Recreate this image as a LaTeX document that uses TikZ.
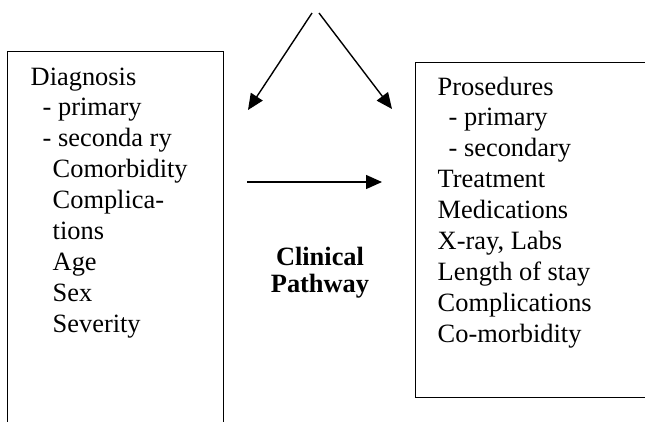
\documentclass[tikz,border=0pt]{standalone}
\usepackage{fontspec}
\setmainfont{Liberation Serif}
\usetikzlibrary{arrows.meta}
\usetikzlibrary{positioning}
\tikzset{
	framebox/.style={
		rectangle,
		draw=black,
		line width=1.4pt,
		inner sep=0pt,
		anchor=north west,
	},
	listtext/.style={
		inner sep=0pt,
		anchor=base west,
		font=\fontsize{26.4}{30.9}\selectfont,
	},
}

\begin{document}
\begin{tikzpicture}[x=1pt,y=-1pt,->,>={Triangle[length=16pt,width=14pt]},line width=1.4pt]
	
	\useasboundingbox (0,0) rectangle (645,421);
	
	\node[framebox, minimum width=216pt, minimum height=400pt] (LEFT) at (7,51) {};
	
	\node[framebox, minimum width=260pt, minimum height=335pt] (RIGHT) at (415,62) {};
	
	\node[listtext,
	below right=34pt and 23pt of LEFT.north west,
	anchor=base west] (DIAG)
	{
		\begin{tabular}[t]{@{}l@{}}
		Diagnosis\\
		\hspace{12pt}- primary\\
		\hspace{12pt}- seconda ry\\
		\hspace{22pt}Comorbidity\\
		\hspace{22pt}Complica-\\
		\hspace{22pt}tions\\
		\hspace{22pt}Age\\
		\hspace{22pt}Sex\\
		\hspace{22pt}Severity
		\end{tabular}
	};
	
	\node[listtext,
	below right=33pt and 22pt of RIGHT.north west,
	anchor=base west] (PROC)
	{
		\begin{tabular}[t]{@{}l@{}}
		Prosedures\\
		\hspace{11pt}- primary\\
		\hspace{11pt}- secondary\\
		Treatment\\
		Medications\\
		X-ray, Labs\\
		Length of stay\\
		Complications\\
		Co-morbidity
		\end{tabular}
	};
	
	\node[listtext, anchor=base] (PATH) at (320,265)
	{
		\begin{tabular}[t]{@{}c@{}}
		\bfseries Clinical\\[-3pt]
		\bfseries Pathway
		\end{tabular}
	};
	
	\coordinate (TOPL) at (312,13);
	\coordinate (TOPR) at (319,13);
	\coordinate (TIPL) at (248,110);
	\coordinate (TIPR) at (392,109);
	\coordinate (FROM) at (247,182);
	\coordinate (TO) at (382,182);
	
	\draw (TOPL) -- (TIPL);
	\draw (TOPR) -- (TIPR);
	\draw (FROM) -- (TO);
	
\end{tikzpicture}
\end{document}
